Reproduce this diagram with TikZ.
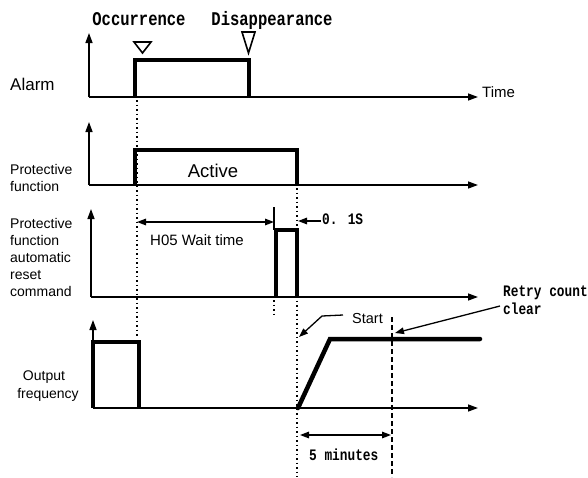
\documentclass[tikz,border=0pt]{standalone}
\usepackage{fontspec}
\setmainfont{Liberation Sans}
\newfontfamily\monof[FakeStretch=0.8]{Liberation Mono}
\usetikzlibrary{arrows.meta}
\begin{document}
\begin{tikzpicture}[x=1pt,y=-1pt,
  axis/.style={line width=1.4pt,-{Triangle[length=10pt,width=7pt]}},
  wave/.style={line width=4.5pt,line join=miter,line cap=butt},
  dots/.style={line width=1.5pt,dash pattern=on 1.5pt off 3pt},
  dashline/.style={line width=1.8pt,dash pattern=on 5pt off 3pt},
  tip/.style={line width=1.4pt,-{Triangle[length=9pt,width=6.5pt]}},
  dtip/.style={line width=1.4pt,{Triangle[length=9pt,width=6.5pt]}-{Triangle[length=9pt,width=6.5pt]}},
  side/.style={font=\fontsize{14}{16}\selectfont,inner sep=0pt,anchor=base west},
  sans/.style={inner sep=0pt,anchor=base west},
  mono/.style={font=\monof\bfseries\fontsize{16}{18}\selectfont,inner sep=0pt,anchor=base west},
  bigmono/.style={font=\monof\bfseries\fontsize{19.4}{22}\selectfont,inner sep=0pt,anchor=base},
  tri/.style={line width=1.6pt,line join=miter}]
\useasboundingbox (0,0) rectangle (588,477);

% ---------- Panel 1: Alarm ----------
\node[sans,font=\fontsize{17}{20}\selectfont] (alarm) at (10,90) {Alarm};
\node[bigmono] (occ) at (139,25) {Occurrence};
\node[bigmono] (dis) at (272,25) {Disappearance};
\draw[tri] (134,42) -- (151,42) -- (142.5,53) -- cycle;
\draw[tri] (242,32) -- (255,32) -- (248.5,53) -- cycle;
\draw[axis] (89,97) -- (89,33);
\draw[axis] (89,97) -- (478,97);
\node[sans,font=\fontsize{15}{18}\selectfont] (time) at (482,97) {Time};
\draw[wave] (135,97) -- (135,60) -- (249,60) -- (249,97);

% ---------- Panel 2: Protective function ----------
\node[side] (pf1) at (10,174) {Protective};
\node[side] (pf2) at (10,191) {function};
\draw[axis] (89,185) -- (89,122);
\draw[axis] (89,185) -- (478,185);
\draw[wave] (135,185) -- (135,150) -- (297,150) -- (297,185);
\node[sans,font=\fontsize{18.5}{22}\selectfont,anchor=base] (active) at (213,177) {Active};

% ---------- Panel 3: automatic reset command ----------
\node[side] (r1) at (10,228) {Protective};
\node[side] (r2) at (10,245) {function};
\node[side] (r3) at (10,262) {automatic};
\node[side] (r4) at (10,279) {reset};
\node[side] (r5) at (10,296) {command};
\draw[axis] (91,297) -- (91,209);
\draw[axis] (91,297) -- (478,297);
\draw[wave] (276,297) -- (276,230) -- (297,230) -- (297,297);
\coordinate (tickTop) at (274,207);
\coordinate (tickBot) at (274,230);
\draw[line width=1.2pt] (tickTop) -- (tickBot);
\coordinate (waitL) at (137,222);
\coordinate (waitR) at (274,222);
\draw[dtip] (waitL) -- (waitR);
\node[sans,font=\fontsize{15}{18}\selectfont] (wait) at (150,245) {H05 Wait time};
\node[mono] (tenth) at (322,224) {0. 1S};
\coordinate (tenthTip) at (298,221);
\draw[tip] (tenth.west |- tenthTip) ++(-1,0) coordinate (tenthStart) -- (tenthTip);

% ---------- Panel 4: Output frequency ----------
\node[side,anchor=base] (of1) at (44,380) {Output};
\node[side,anchor=base] (of2) at (48,398) {frequency};
\draw[axis] (93,408) -- (93,320);
\draw[axis] (93,408) -- (478,408);
\draw[wave] (93,408) -- (93,342) -- (139,342) -- (139,408);
\draw[wave,line cap=round] (298,408) -- (330,339) -- (480,339);

% ---------- guide lines ----------
\draw[dots] (137,100) -- (137,338);
\draw[dots] (297,188) -- (297,477);
\draw[dots] (274,300) -- (274,318);
\draw[dashline] (392,317) -- (392,477);

% ---------- Start / Retry count clear ----------
\node[sans,font=\fontsize{14.5}{17}\selectfont] (start) at (352,323) {Start};
\coordinate (startA) at (343,315);
\coordinate (startB) at (322,316);
\coordinate (startTip) at (299,337);
\draw[tip,line width=1.3pt] (startA) -- (startB) -- (startTip);
\node[mono] (retry1) at (503,296) {Retry count};
\node[mono] (retry2) at (503,314) {clear};
\coordinate (retryA) at (500,306);
\coordinate (retryTip) at (395,333);
\draw[tip,line width=1.3pt] (retryA) -- (retryTip);

% ---------- 5 minutes ----------
\coordinate (fiveL) at (300,435);
\coordinate (fiveR) at (391,435);
\draw[dtip] (fiveL) -- (fiveR);
\node[mono] (five) at (309,460) {5 minutes};
\end{tikzpicture}
\end{document}
